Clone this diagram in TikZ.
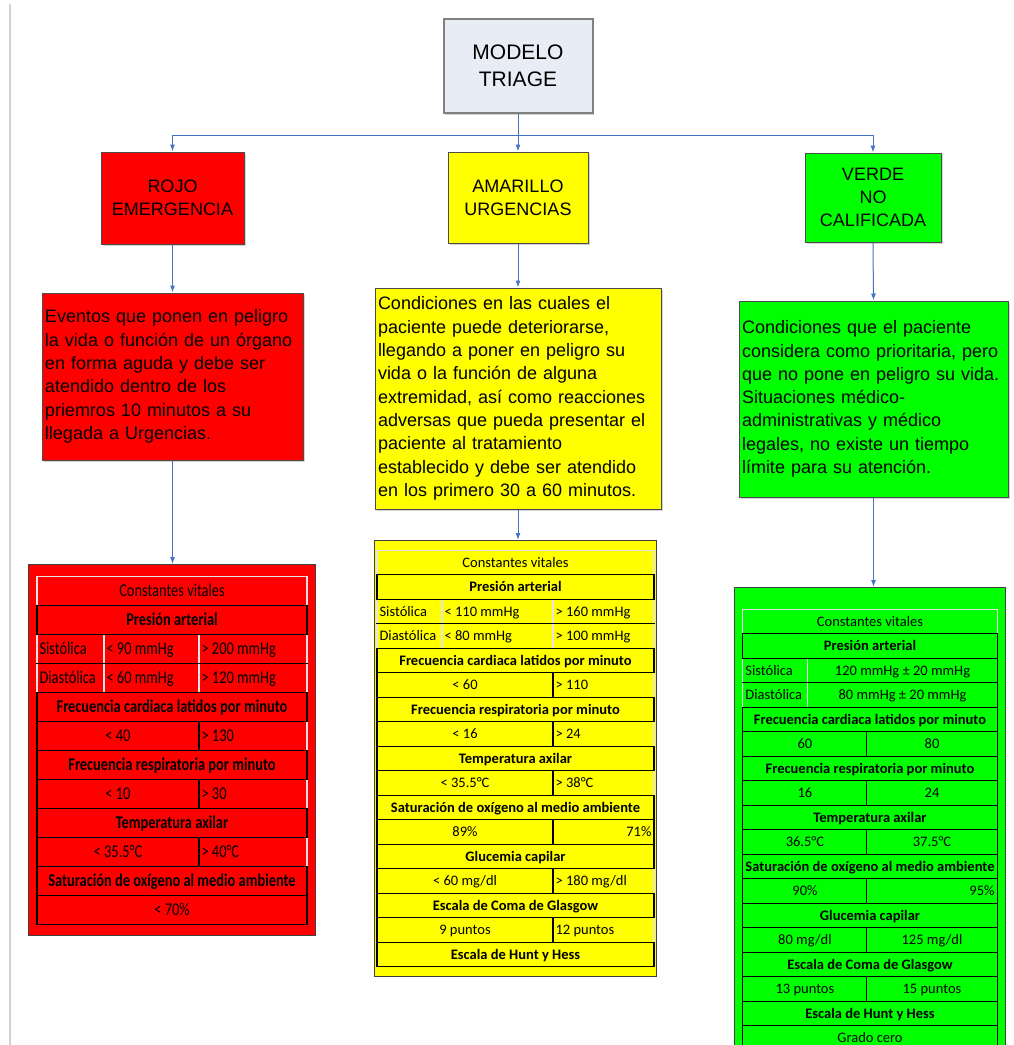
\documentclass[tikz,border=0pt]{standalone}
\usepackage{fontspec}
\setmainfont{Liberation Sans}
\newfontfamily\tabfont{Carlito}
\newfontfamily\rojofont[FakeStretch=0.8]{Carlito}
\usepackage{colortbl}
\usetikzlibrary{arrows.meta,shadows}

\definecolor{triRojo}{RGB}{255,0,0}
\definecolor{triAmarillo}{RGB}{255,255,0}
\definecolor{triVerde}{RGB}{0,255,0}
\definecolor{triAzul}{RGB}{68,114,196}
\definecolor{triGris}{RGB}{232,236,245}
\definecolor{triClaro}{RGB}{228,228,228}

\newcommand\rsr{\rule[-8.15pt]{0pt}{27.9pt}}
\newcommand\rsy{\rule[-7pt]{0pt}{23.4pt}}
\newcommand\justificar{\leavevmode\leftskip=0pt\relax\rightskip=0pt\relax\parfillskip=0pt plus 1fil\relax}
\newcolumntype{L}{!{\color{triClaro}\vrule width 1.1pt}}
\setlength\tabcolsep{2pt}
\setlength\arrayrulewidth{1.1pt}
\tolerance=10000
\hyphenpenalty=10000
\hbadness=10000

\tikzset{
  nivel/.style={draw=black!70, line width=1pt, align=center,
    font=\fontsize{18}{23.3}\selectfont,
    drop shadow={opacity=.35, shadow xshift=1.5pt, shadow yshift=-2pt}},
  detalle/.style={draw=black!70, line width=1pt, inner xsep=3pt,
    font=\fontsize{18}{23.3}\selectfont,
    drop shadow={opacity=.35, shadow xshift=1.5pt, shadow yshift=-2pt}},
  tabla/.style={draw=black!75, line width=1.2pt, anchor=north},
  enlace/.style={->, draw=triAzul, line width=1pt},
}

\begin{document}
\begin{tikzpicture}[x=1pt, y=-1pt, >={Latex[length=7pt,width=5pt]}]
   \useasboundingbox (0,0) rectangle (1014,1045);
   \clip (0,0) rectangle (1014,1045);
   \draw[gray!35, line width=1.5pt] (10,4) -- (10,1045);

   \node[nivel, fill=triGris, draw=black!50, line width=2pt, minimum width=149pt, minimum height=94pt,
      font=\fontsize{21}{26.5}\selectfont] (modelo) at (518,66) {MODELO\\TRIAGE};
   \coordinate (bus) at (518,135);

   \node[nivel, fill=triRojo, minimum width=143pt, minimum height=92pt] (rojo) at (172.5,198) {ROJO\\EMERGENCIA};
   \node[nivel, fill=triAmarillo, minimum width=140pt, minimum height=91pt] (amarillo) at (518,197.5) {AMARILLO\\URGENCIAS};
   \node[nivel, fill=triVerde, minimum width=136pt, minimum height=89pt] (verde) at (873,197.5) {VERDE\\NO\\CALIFICADA};

   \node[detalle, fill=triRojo, text width=255pt, minimum height=167pt] (rdesc) at (172.5,376.5) {\justificar Eventos que ponen en peligro\linebreak la vida o función de un órgano\linebreak en forma aguda y debe ser\linebreak atendido dentro de los\linebreak priemros 10 minutos a su\linebreak llegada a Urgencias.\par};
   \node[detalle, fill=triAmarillo, text width=280pt, minimum height=221pt] (adesc) at (518,398.5) {\justificar Condiciones en las cuales el\linebreak paciente puede deteriorarse,\linebreak llegando a poner en peligro su\linebreak vida o la función de alguna\linebreak extremidad, así como reacciones\linebreak adversas que pueda presentar el\linebreak paciente al tratamiento\linebreak establecido y debe ser atendido\linebreak en los primero 30 a 60 minutos.\par};
   \node[detalle, fill=triVerde, text width=263pt, minimum height=196pt] (vdesc) at (873.5,399) {\justificar Condiciones que el paciente\linebreak considera como prioritaria, pero\linebreak que no pone en peligro su vida.\newline Situaciones médico-\linebreak administrativas y médico\linebreak legales, no existe un tiempo\linebreak límite para su atención.\par};

   \node[tabla, fill=triRojo, inner xsep=8pt, inner ysep=11pt] (rtab) at (172,564) {\rojofont\fontsize{18}{21}\selectfont
      \arrayrulecolor{triClaro}%
      \begin{tabular}{|p{61.9pt}|p{89.9pt}|p{102.9pt}|}
      \hline
      \multicolumn{3}{LcL}{\rsr Constantes vitales} \\
      \arrayrulecolor{black}\hline
      \multicolumn{3}{|c|}{\rsr\bfseries Presión arterial} \\ \hline
      \rsr Sistólica & < 90 mmHg & > 200 mmHg \\ \hline
      \rsr Diastólica & < 60 mmHg & > 120 mmHg \\ \hline
      \multicolumn{3}{|c|}{\rsr\bfseries Frecuencia cardiaca latidos por minuto} \\ \hline
      \multicolumn{2}{|c|}{\rsr < 40} & > 130 \\ \hline
      \multicolumn{3}{|c|}{\rsr\bfseries Frecuencia respiratoria por minuto} \\ \hline
      \multicolumn{2}{|c|}{\rsr < 10} & > 30 \\ \hline
      \multicolumn{3}{|c|}{\rsr\bfseries Temperatura axilar} \\ \hline
      \multicolumn{2}{|c|}{\rsr < 35.5°C} & > 40°C \\ \hline
      \multicolumn{3}{|c|}{\rsr\bfseries Saturación de oxígeno al medio ambiente} \\ \hline
      \multicolumn{3}{|c|}{\rsr < 70\%} \\ \hline
      \end{tabular}};

   \node[tabla, fill=triAmarillo, inner xsep=2pt, inner ysep=9pt] (atab) at (515.5,540) {\tabfont\fontsize{14.5}{17}\selectfont
      \arrayrulecolor{triClaro}%
      \begin{tabular}{|p{59.9pt}|p{105.9pt}|p{95.9pt}|}
      \hline
      \multicolumn{3}{LcL}{\rsy Constantes vitales} \\
      \arrayrulecolor{black}\hline
      \multicolumn{3}{|c|}{\rsy\bfseries Presión arterial} \\ \hline
      \rsy Sistólica & < 110 mmHg & > 160 mmHg \\ \hline
      \rsy Diastólica & < 80 mmHg & > 100 mmHg \\ \hline
      \multicolumn{3}{|c|}{\rsy\bfseries Frecuencia cardiaca latidos por minuto} \\ \hline
      \multicolumn{2}{|c|}{\rsy < 60} & > 110 \\ \hline
      \multicolumn{3}{|c|}{\rsy\bfseries Frecuencia respiratoria por minuto} \\ \hline
      \multicolumn{2}{|c|}{\rsy < 16} & > 24 \\ \hline
      \multicolumn{3}{|c|}{\rsy\bfseries Temperatura axilar} \\ \hline
      \multicolumn{2}{|c|}{\rsy < 35.5°C} & > 38°C \\ \hline
      \multicolumn{3}{|c|}{\rsy\bfseries Saturación de oxígeno al medio ambiente} \\ \hline
      \multicolumn{2}{|c|}{\rsy 89\%} & \multicolumn{1}{r|}{71\%} \\ \hline
      \multicolumn{3}{|c|}{\rsy\bfseries Glucemia capilar} \\ \hline
      \multicolumn{2}{|c|}{\rsy < 60 mg/dl} & > 180 mg/dl \\ \hline
      \multicolumn{3}{|c|}{\rsy\bfseries Escala de Coma de Glasgow} \\ \hline
      \multicolumn{2}{|c|}{\rsy 9 puntos} & 12 puntos \\ \hline
      \multicolumn{3}{|c|}{\rsy\bfseries Escala de Hunt y Hess} \\ \hline
      \end{tabular}};

   \node[tabla, fill=triVerde, inner xsep=8pt, inner ysep=21pt] (vtab) at (870,587) {\tabfont\fontsize{14.5}{17}\selectfont
      \arrayrulecolor{triClaro}%
      \begin{tabular}{|p{59.9pt}|p{61.9pt}|p{130.9pt}|}
      \omit & \omit\hskip 59pt & \omit \\
      \hline
      \multicolumn{3}{LcL}{\rsy Constantes vitales} \\
      \arrayrulecolor{black}\hline
      \multicolumn{3}{|c|}{\rsy\bfseries Presión arterial} \\ \hline
      \rsy Sistólica & \multicolumn{2}{c|}{120 mmHg ± 20 mmHg} \\ \hline
      \rsy Diastólica & \multicolumn{2}{c|}{80 mmHg ± 20 mmHg} \\ \hline
      \multicolumn{3}{|c|}{\rsy\bfseries Frecuencia cardiaca latidos por minuto} \\ \hline
      \multicolumn{2}{|c|}{\rsy 60} & \multicolumn{1}{c|}{80} \\ \hline
      \multicolumn{3}{|c|}{\rsy\bfseries Frecuencia respiratoria por minuto} \\ \hline
      \multicolumn{2}{|c|}{\rsy 16} & \multicolumn{1}{c|}{24} \\ \hline
      \multicolumn{3}{|c|}{\rsy\bfseries Temperatura axilar} \\ \hline
      \multicolumn{2}{|c|}{\rsy 36.5°C} & \multicolumn{1}{c|}{37.5°C} \\ \hline
      \multicolumn{3}{|c|}{\rsy\bfseries Saturación de oxígeno al medio ambiente} \\ \hline
      \multicolumn{2}{|c|}{\rsy 90\%} & \multicolumn{1}{r|}{95\%} \\ \hline
      \multicolumn{3}{|c|}{\rsy\bfseries Glucemia capilar} \\ \hline
      \multicolumn{2}{|c|}{\rsy 80 mg/dl} & \multicolumn{1}{c|}{125 mg/dl} \\ \hline
      \multicolumn{3}{|c|}{\rsy\bfseries Escala de Coma de Glasgow} \\ \hline
      \multicolumn{2}{|c|}{\rsy 13 puntos} & \multicolumn{1}{c|}{15 puntos} \\ \hline
      \multicolumn{3}{|c|}{\rsy\bfseries Escala de Hunt y Hess} \\ \hline
      \multicolumn{3}{|c|}{\rsy Grado cero} \\ \hline
      \end{tabular}};

   \draw[enlace] (modelo.south) -- (amarillo.north);
   \draw[enlace] (bus) -| (rojo.north);
   \draw[enlace] (bus) -| (verde.north);
   \draw[enlace] (rojo.south) -- (rdesc.north);
   \draw[enlace] (amarillo.south) -- (adesc.north);
   \draw[enlace] (verde.south) -- (vdesc.north);
   \draw[enlace] (rdesc.south) -- (rdesc.south |- rtab.north);
   \draw[enlace] (adesc.south) -- (adesc.south |- atab.north);
   \draw[enlace] (vdesc.south) -- (vdesc.south |- vtab.north);
\end{tikzpicture}
\end{document}
